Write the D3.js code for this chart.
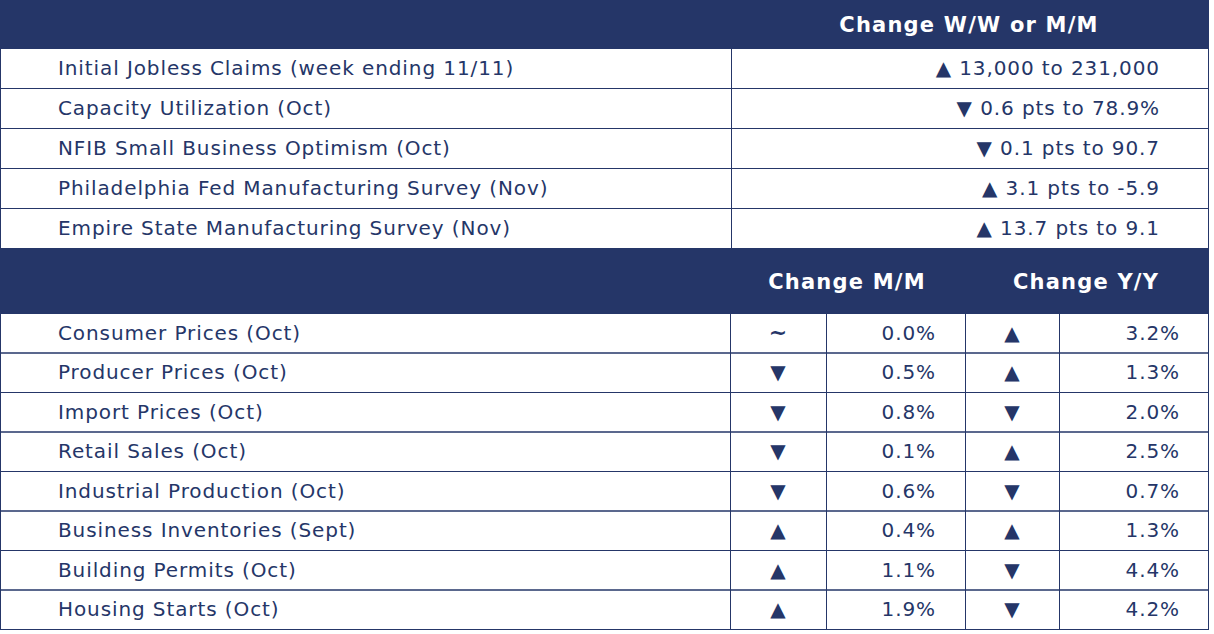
<!DOCTYPE html>
<html><head><meta charset="utf-8">
<script src="https://cdn.jsdelivr.net/npm/d3@7"></script>
<style>body{margin:0;background:#fff}</style>
</head><body>
<script>
var navy = "#253668";

var topLabels = ["Initial Jobless Claims (week ending 11/11)", "Capacity Utilization (Oct)",
    "NFIB Small Business Optimism (Oct)", "Philadelphia Fed Manufacturing Survey (Nov)",
    "Empire State Manufacturing Survey (Nov)"];
var topValues = ["\u25B2 13,000 to 231,000", "\u25BC 0.6 pts to 78.9%", "\u25BC 0.1 pts to 90.7",
    "\u25B2 3.1 pts to -5.9", "\u25B2 13.7 pts to 9.1"];

var bottomLabels = ["Consumer Prices (Oct)", "Producer Prices (Oct)", "Import Prices (Oct)",
    "Retail Sales (Oct)", "Industrial Production (Oct)", "Business Inventories (Sept)",
    "Building Permits (Oct)", "Housing Starts (Oct)"];
var mmArrow = ["~", "\u25BC", "\u25BC", "\u25BC", "\u25BC", "\u25B2", "\u25B2", "\u25B2"];
var mmValue = ["0.0%", "0.5%", "0.8%", "0.1%", "0.6%", "0.4%", "1.1%", "1.9%"];
var yyArrow = ["\u25B2", "\u25B2", "\u25BC", "\u25B2", "\u25BC", "\u25B2", "\u25BC", "\u25BC"];
var yyValue = ["3.2%", "1.3%", "2.0%", "2.5%", "0.7%", "1.3%", "4.4%", "4.2%"];

var svg = d3.select("body").append("svg")
    .attr("width", 1214).attr("height", 634);

function txt(x, y, s, anchor, opts)
{
    opts = opts || {};
    return svg.append("text")
        .text(s)
        .attr("x", x).attr("y", y)
        .attr("dy", "0.35em")
        .style("fill", opts.fill || navy)
        .style("font-family", "DejaVu Sans, Verdana, sans-serif")
        .style("font-size", (opts.size || 20) + "px")
        .style("font-weight", opts.bold ? "bold" : "normal")
        .style("letter-spacing", (opts.ls === undefined ? 0.9 : opts.ls) + "px")
        .style("text-anchor", anchor);
}

function cell(x0, x1, y0, y1)
{
    svg.append("rect").attr("x", x0 + 0.5).attr("y", y0 + 0.5)
        .attr("width", x1 - x0).attr("height", y1 - y0)
        .attr("fill", "none").attr("stroke", navy).attr("stroke-width", 1);
}

// ---- top section ----
svg.append("rect").attr("x", 0).attr("y", 0).attr("width", 1209).attr("height", 48).attr("fill", navy);
txt(969, 25, "Change W/W or M/M", "middle", { fill: "#fff", bold: true, size: 21, ls: 1.2 });

var topY = d3.scaleBand().domain(d3.range(topLabels.length)).range([48, 248]);
topLabels.forEach(function(l, i) {
    var y0 = topY(i), y1 = y0 + topY.bandwidth();
    cell(0, 731, y0, y1);
    cell(731, 1208, y0, y1);
    txt(58, (y0 + y1) / 2, l, "start");
    txt(1160, (y0 + y1) / 2, topValues[i], "end");
});

// ---- bottom section ----
svg.append("rect").attr("x", 0).attr("y", 248).attr("width", 1209).attr("height", 65).attr("fill", navy);
txt(847, 282, "Change M/M", "middle", { fill: "#fff", bold: true, size: 21, ls: 1.2 });
txt(1086, 282, "Change Y/Y", "middle", { fill: "#fff", bold: true, size: 21, ls: 1.2 });

var botY = d3.scaleBand().domain(d3.range(bottomLabels.length)).range([313, 629]);
bottomLabels.forEach(function(l, i) {
    var y0 = botY(i), y1 = y0 + botY.bandwidth(), yc = (y0 + y1) / 2;
    cell(0, 730, y0, y1);
    cell(730, 826, y0, y1);
    cell(826, 965, y0, y1);
    cell(965, 1059, y0, y1);
    cell(1059, 1208, y0, y1);
    txt(58, yc, l, "start");
    if (mmArrow[i] === "~") txt(778, yc, "~", "middle", { bold: true, size: 22, ls: 0 });
    else txt(778, yc, mmArrow[i], "middle", { ls: 0 });
    txt(936, yc, mmValue[i], "end");
    txt(1012, yc, yyArrow[i], "middle", { ls: 0 });
    txt(1180, yc, yyValue[i], "end");
});
</script>
</body></html>
